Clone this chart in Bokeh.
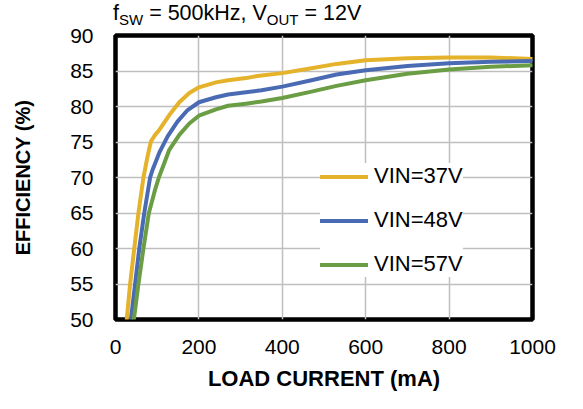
from bokeh.plotting import figure
from bokeh.models import FixedTicker, Range1d, Div
from bokeh.layouts import column
from bokeh.embed import file_html
from bokeh.resources import INLINE

# ---- data ----
load_37 = [27, 35, 45, 55, 67, 77, 85, 95, 105, 129, 153, 177, 200, 241, 270, 313, 340, 400, 470, 530, 600, 700, 800, 900, 1000]
eff_37 = [50, 55, 60, 65, 70, 73.0, 75.1, 76.0, 76.7, 78.8, 80.6, 81.9, 82.7, 83.4, 83.7, 84.0, 84.3, 84.7, 85.4, 86.0, 86.5, 86.8, 86.9, 86.9, 86.7]

load_48 = [37, 47, 57, 69, 83, 89, 105, 125, 149, 173, 200, 241, 270, 313, 350, 400, 470, 530, 600, 700, 800, 900, 1000]
eff_48 = [50, 55, 60, 65, 70, 71.1, 73.5, 75.8, 77.9, 79.5, 80.6, 81.3, 81.7, 82.0, 82.3, 82.8, 83.7, 84.5, 85.1, 85.7, 86.1, 86.3, 86.4]

load_57 = [44, 55, 67, 80, 95, 104, 129, 153, 177, 200, 241, 270, 313, 350, 400, 470, 530, 600, 700, 800, 900, 1000]
eff_57 = [50, 55, 60, 65, 68.3, 70, 73.9, 76.0, 77.6, 78.7, 79.6, 80.1, 80.4, 80.7, 81.2, 82.1, 82.9, 83.7, 84.6, 85.2, 85.6, 85.8]

series_names = ["VIN=37V", "VIN=48V", "VIN=57V"]
x_ticks = [0, 200, 400, 600, 800, 1000]
y_ticks = [50, 55, 60, 65, 70, 75, 80, 85, 90]

FONT = "Liberation Sans"

title_html = (
    '<div style="margin-left:113px;margin-top:2px;font-family:\'Liberation Sans\',Arial,sans-serif;'
    'font-size:21.5px;line-height:22px;color:black;white-space:nowrap;">'
    'f<sub style="font-size:15px;vertical-align:-5px;line-height:0;">SW</sub> = 500kHz, '
    'V<sub style="font-size:15px;vertical-align:-5px;line-height:0;">OUT</sub> = 12V</div>'
)
title_div = Div(text=title_html, width=567, height=21, margin=0,
                styles={"overflow": "visible", "z-index": "10"})

p = figure(width=567, height=372, output_backend="svg", toolbar_location=None,
           x_range=Range1d(0, 1000), y_range=Range1d(50, 90),
           min_border_left=115, min_border_right=35, min_border_top=14, min_border_bottom=71,
           margin=0)

p.background_fill_color = "white"
p.border_fill_color = None
p.outline_line_color = "black"
p.outline_line_width = 4.5

for ax in (p.xaxis[0], p.yaxis[0]):
    ax.axis_line_color = None
    ax.major_tick_line_color = None
    ax.minor_tick_line_color = None
    ax.major_label_text_font = FONT
    ax.major_label_text_font_size = "21px"
    ax.major_label_text_color = "black"
    ax.axis_label_text_font = FONT
    ax.axis_label_text_font_style = "bold"
    ax.axis_label_text_color = "black"

p.xaxis.axis_label_text_font_size = "22px"
p.yaxis.axis_label_text_font_size = "20px"
p.xaxis.ticker = FixedTicker(ticks=x_ticks)
p.yaxis.ticker = FixedTicker(ticks=y_ticks)
p.xaxis.axis_label = "LOAD CURRENT (mA)"
p.yaxis.axis_label = "EFFICIENCY (%)"
p.xaxis.major_label_standoff = 14
p.yaxis.major_label_standoff = 16
p.xaxis.axis_label_standoff = 9
p.yaxis.axis_label_standoff = 33

p.grid.grid_line_color = "#BFBFBF"
p.grid.grid_line_width = 1.5

colors = ["#E5B22B", "#4A6BB3", "#6B9E44"]
for xs, ys, c, name in zip([load_37, load_48, load_57], [eff_37, eff_48, eff_57], colors, series_names):
    p.line(xs, ys, line_color=c, line_width=4, line_join="round", line_cap="round", legend_label=name)

lg = p.legend[0]
lg.location = (205, 42)
lg.background_fill_color = "white"
lg.background_fill_alpha = 1.0
lg.border_line_color = None
lg.label_text_font = FONT
lg.label_text_font_size = "22px"
lg.label_text_color = "black"
lg.glyph_width = 48
lg.glyph_height = 25
lg.label_height = 25
lg.label_standoff = 6
lg.spacing = 18
lg.padding = 8
lg.margin = 0

layout = column(title_div, p, spacing=0, margin=0)
open("out.html", "w").write(file_html(layout, INLINE))
